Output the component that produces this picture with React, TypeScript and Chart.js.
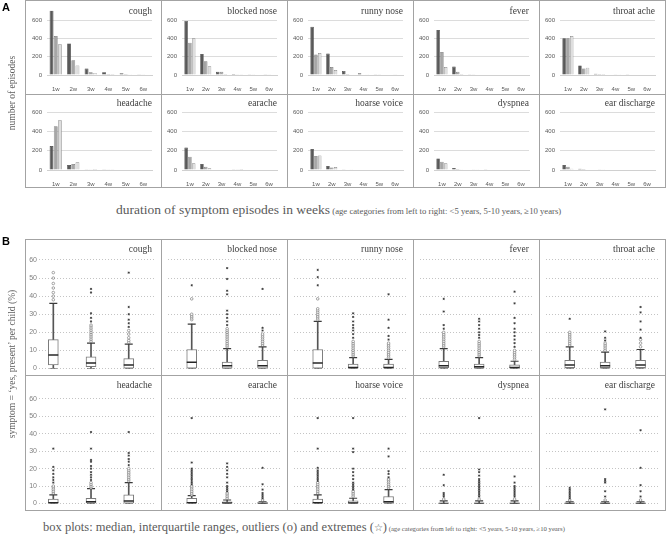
import React, { useEffect, useRef } from 'react';
import { Chart, registerables } from 'chart.js';

Chart.register(...registerables);

// ---------- categories ----------
const WEEKS = ['1w', '2w', '3w', '4w', '5w', '6w'];
const AGE_GROUPS = ['<5 years', '5-10 years', '≥10 years'];
const SYMPTOMS = ['cough', 'blocked nose', 'runny nose', 'fever', 'throat ache', 'headache', 'earache', 'hoarse voice', 'dyspnea', 'ear discharge'];
const EPISODE_TICKS = [0, 200, 400, 600];
const PERCENT_TICKS = [0, 10, 20, 30, 40, 50, 60];

// ---------- panel A: number of episodes (rows: age groups, columns: weeks) ----------
const coughEpisodes = [[705, 345, 70, 30, 20, 8], [425, 160, 30, 12, 10, 2], [335, 105, 20, 10, 2, 0]];
const blockedNoseEpisodes = [[590, 228, 35, 12, 3, 3], [352, 150, 35, 8, 2, 2], [400, 95, 10, 3, 0, 0]];
const runnyNoseEpisodes = [[527, 234, 45, 20, 8, 5], [225, 88, 10, 5, 3, 2], [240, 55, 5, 2, 0, 0]];
const feverEpisodes = [[490, 92, 8, 0, 0, 0], [250, 35, 3, 0, 0, 0], [88, 10, 0, 0, 0, 0]];
const throatAcheEpisodes = [[400, 105, 15, 5, 3, 0], [400, 72, 10, 3, 0, 0], [425, 80, 10, 2, 0, 0]];
const headacheEpisodes = [[247, 51, 8, 3, 0, 0], [453, 62, 8, 2, 0, 0], [514, 79, 10, 3, 0, 0]];
const earacheEpisodes = [[233, 62, 5, 3, 0, 0], [137, 34, 5, 3, 0, 0], [69, 17, 0, 1, 0, 0]];
const hoarseVoiceEpisodes = [[216, 41, 8, 0, 0, 0], [144, 27, 5, 0, 0, 0], [151, 30, 2, 0, 0, 0]];
const dyspneaEpisodes = [[120, 21, 5, 3, 0, 0], [86, 10, 2, 0, 0, 0], [69, 8, 2, 0, 0, 0]];
const earDischargeEpisodes = [[51, 14, 5, 0, 0, 0], [34, 10, 3, 0, 0, 0], [14, 5, 2, 0, 0, 0]];

const EPISODES = [coughEpisodes, blockedNoseEpisodes, runnyNoseEpisodes, feverEpisodes, throatAcheEpisodes,
  headacheEpisodes, earacheEpisodes, hoarseVoiceEpisodes, dyspneaEpisodes, earDischargeEpisodes];

// ---------- panel B: box plots per age group [q1, median, q3, lower whisker, upper whisker] ----------
const coughBox = [[2, 7.5, 16, 0, 36], [1, 3, 6.5, 0, 14], [0, 2, 5.5, 0, 13.5]];
const coughOutliers = [[38, 40, 42, 44.5, 47, 50, 53], [15, 16, 17, 18, 19, 20, 21, 22, 23, 24], [14.5, 15.5, 17, 19, 21]];
const coughExtremes = [[], [26, 28, 30.5, 42, 44], [23, 25, 27, 30, 34, 53]];

const blockedNoseBox = [[0, 3.5, 10.5, 0, 24.5], [0, 1.5, 3.5, 0, 11], [0, 1.5, 4.5, 0, 12]];
const blockedNoseOutliers = [[27, 28, 29, 30, 38.5], [12, 13, 14, 15, 16, 17, 18, 19, 20, 21, 22], [13, 14, 15, 16, 17, 18, 19]];
const blockedNoseExtremes = [[46], [24, 26, 28, 30, 32, 41, 43, 49.5, 55.5], [21, 22.5, 44]];

const runnyNoseBox = [[0, 3, 10.5, 0, 26], [0, 0.5, 2.5, 0, 6], [0, 0.5, 2.5, 0, 5]];
const runnyNoseOutliers = [[27, 28, 29, 30, 31, 32, 33, 38.5], [7, 8, 9, 10, 11, 12, 13, 14, 15], [6, 7, 8, 9, 10, 11, 12, 13, 14]];
const runnyNoseExtremes = [[46, 50.5, 54.5], [17, 19, 21, 22.5, 24, 26, 28.5, 30.5], [16, 18, 22.5, 27, 41]];

const feverBox = [[0.5, 1.5, 4, 0, 11], [0, 1, 2.5, 0, 6], [0, 0.5, 2, 0, 4]];
const feverOutliers = [[12, 13, 14, 15, 16, 17, 18, 19, 20], [7, 8, 9, 10, 11, 12, 13, 14, 15], [5, 6, 7, 8, 9, 10]];
const feverExtremes = [[22, 24, 31.5, 38.5], [17, 18.5, 20, 22, 24, 26, 27.5], [12, 14, 16, 18, 20, 22, 25, 28, 36, 42.5]];

const throatAcheBox = [[0.5, 2, 4.5, 0, 12], [0.5, 1.5, 3.5, 0, 9], [0.5, 2, 4.5, 0, 10.5]];
const throatAcheOutliers = [[13, 14, 15, 16, 17, 18, 19, 20], [10, 11, 12, 13, 14], [12, 14, 16]];
const throatAcheExtremes = [[27.5], [15.5, 17, 20.5], [17, 21.5, 26, 31, 34]];

const headacheBox = [[0, 0.5, 2.5, 0, 5], [0, 1, 3, 0, 8.5], [0, 1.5, 5, 0, 12]];
const headacheOutliers = [[6, 7, 8, 9, 10], [9, 10, 11, 12], [13, 14, 15, 16, 17, 18, 19, 20]];
const headacheExtremes = [[12, 13.5, 15, 17, 19, 21, 31.5], [13.5, 15, 16.5, 18, 20, 21.5, 24, 25, 31.5, 41], [22, 24, 25.5, 27.5, 29, 41]];

const earacheBox = [[0, 0.5, 3, 0, 4.5], [0, 0.3, 1, 0, 2], [0, 0, 0.5, 0, 1]];
const earacheOutliers = [[5, 6, 7, 8, 9, 10], [3, 4, 5, 6], [2]];
const earacheExtremes = [[11, 12, 13, 14, 15, 16, 17, 18, 19, 20, 23.5, 49], [7, 8, 9, 10, 12, 15, 17, 19, 21, 23], [3, 4, 5, 6, 8, 11, 20.5]];

const hoarseVoiceBox = [[0, 0.5, 2.5, 0, 5], [0, 0.3, 1.5, 0, 3], [0, 1, 4, 0, 8]];
const hoarseVoiceOutliers = [[6, 7, 8, 9, 10, 11, 12], [4, 5, 6, 7], [9, 10, 11, 12, 13, 14]];
const hoarseVoiceExtremes = [[13, 14, 15, 16, 17, 18, 19, 20.5, 31.5, 49], [8, 9, 10, 11, 12, 14, 16, 18, 20, 29.5, 31.5, 49], [15, 17, 18.5, 27, 31.5]];

const dyspneaBox = [[0, 0, 0.3, 0, 1.5], [0, 0, 0.3, 0, 1.5], [0, 0, 0.3, 0, 1.5]];
const dyspneaOutliers = [[2.5], [2.5], [2.5]];
const dyspneaExtremes = [[4, 5, 6, 10.5, 16.5], [4, 5, 6, 7, 8, 9, 10, 11, 12, 13, 14, 16, 18, 19.5, 49], [4, 5, 6, 7, 8, 9, 10, 12, 15.5]];

const earDischargeBox = [[0, 0, 0.3, 0, 1], [0, 0, 0.3, 0, 1], [0, 0, 0.3, 0, 1]];
const earDischargeOutliers = [[2], [2], [2]];
const earDischargeExtremes = [[3, 4, 5, 6, 7, 8, 9], [4, 7, 12, 13, 14, 54], [4, 7, 10.5, 20.5, 42]];

const BOXES = [coughBox, blockedNoseBox, runnyNoseBox, feverBox, throatAcheBox, headacheBox, earacheBox, hoarseVoiceBox, dyspneaBox, earDischargeBox];
const OUTLIERS = [coughOutliers, blockedNoseOutliers, runnyNoseOutliers, feverOutliers, throatAcheOutliers, headacheOutliers, earacheOutliers, hoarseVoiceOutliers, dyspneaOutliers, earDischargeOutliers];
const EXTREMES = [coughExtremes, blockedNoseExtremes, runnyNoseExtremes, feverExtremes, throatAcheExtremes, headacheExtremes, earacheExtremes, hoarseVoiceExtremes, dyspneaExtremes, earDischargeExtremes];

// ---------- layout / style ----------
const COL_X = [25, 161, 287, 413, 539, 665];
const A_MAX = 700;
const A_ROWS = [
  { top: 0, bottom: 94, zero: 75, pxPerUnit: 55 / 600, titleY: 11 },
  { top: 94, bottom: 187, zero: 170, pxPerUnit: 58 / 600, titleY: 103 },
];
const B_ROWS = [
  { top: 239, bottom: 375, zero: 371, pxPerUnit: 1.9, max: 68, titleY: 249 },
  { top: 375, bottom: 510, zero: 504, pxPerUnit: 1.75, max: 70, titleY: 385 },
];
const B_SPACING = 39.5;
const BAR_FILL = ['#595959', '#a6a6a6', '#dedede'];
const BAR_LINE = ['#3a3a3a', '#7a7a7a', '#8a8a8a'];
const SERIF = '"Liberation Serif", "DejaVu Serif", serif';
const SANS = '"Liberation Sans", Arial, sans-serif';
const FRAME = '#a3a3a3';

function zeroPad(s: any) {
  s.paddingTop = 0; s.paddingBottom = 0; s.paddingLeft = 0; s.paddingRight = 0;
}

function EpisodeChart({ idx }: { idx: number }) {
  const col = idx % 5;
  const row = Math.floor(idx / 5);
  const r = A_ROWS[row];
  const left = COL_X[col];
  const width = COL_X[col + 1] - left;
  const height = r.bottom - r.top;
  const yW = col === 0 ? 22 : 21;
  const ref = useRef<HTMLCanvasElement>(null);
  useEffect(() => {
    const chart = new Chart(ref.current as HTMLCanvasElement, {
      type: 'bar',
      data: {
        labels: WEEKS,
        datasets: EPISODES[idx].map((vals, i) => ({
          label: AGE_GROUPS[i],
          data: vals,
          backgroundColor: BAR_FILL[i],
          borderColor: BAR_LINE[i],
          borderWidth: 0.7,
          categoryPercentage: 0.72,
          barPercentage: 0.92,
        })),
      },
      options: {
        animation: false,
        responsive: false,
        devicePixelRatio: 1,
        events: [],
        layout: { padding: { top: r.zero - A_MAX * r.pxPerUnit - r.top, right: col === 0 ? 9 : 10, bottom: 0, left: 0 } },
        plugins: { legend: { display: false }, tooltip: { enabled: false } },
        scales: {
          x: {
            grid: { display: false },
            border: { color: '#d0d0d0' },
            ticks: { color: '#595959', font: { family: SANS, size: 6 }, padding: 3, maxRotation: 0, autoSkip: false },
            afterFit: (s: any) => { s.height = r.bottom - r.zero; zeroPad(s); },
          },
          y: {
            min: 0,
            max: A_MAX,
            afterBuildTicks: (s: any) => { s.ticks = EPISODE_TICKS.map((v) => ({ value: v })); },
            grid: { color: '#dcdcdc', drawTicks: false },
            border: { display: false },
            ticks: { color: '#595959', font: { family: SANS, size: 6 }, padding: 5 },
            afterFit: (s: any) => { s.width = yW; zeroPad(s); },
          },
        },
      },
    } as any);
    return () => chart.destroy();
  }, []);
  return <canvas ref={ref} width={width} height={height} style={{ position: 'absolute', left, top: r.top, width, height }} />;
}

function BoxChart({ idx }: { idx: number }) {
  const col = idx % 5;
  const row = Math.floor(idx / 5);
  const r = B_ROWS[row];
  const left = COL_X[col];
  const width = COL_X[col + 1] - left;
  const height = r.bottom - r.top;
  const first = col === 0;
  const yW = first ? 14 : 0;
  const rightPad = first ? 1 : 0;
  const firstCenter = first ? 29 : 27;
  const plotW = width - yW - rightPad;
  const xMin = 1 - (firstCenter - yW) / B_SPACING;
  const xMax = xMin + plotW / B_SPACING;
  const ref = useRef<HTMLCanvasElement>(null);
  useEffect(() => {
    const stats = BOXES[idx];
    const chart = new Chart(ref.current as HTMLCanvasElement, {
      type: 'bar',
      data: {
        datasets: [
          {
            type: 'bar', label: 'whisker',
            data: stats.map((s, i) => ({ x: i + 1, y: [s[3], s[4]] })),
            backgroundColor: '#555555', barThickness: 1, grouped: false, order: 5,
          },
          {
            type: 'bar', label: 'IQR',
            data: stats.map((s, i) => ({ x: i + 1, y: [s[0], s[2]] })),
            backgroundColor: '#ffffff', borderColor: '#7a7a7a', borderWidth: 1, borderSkipped: false,
            barThickness: 10, grouped: false, order: 4,
          },
          {
            type: 'scatter', label: 'median',
            data: stats.map((s, i) => ({ x: i + 1, y: s[1] })),
            pointStyle: 'line', radius: 5, borderWidth: 1.5, borderColor: '#262626', order: 3,
          },
          {
            type: 'scatter', label: 'caps',
            data: stats.flatMap((s, i) => [{ x: i + 1, y: s[4] }, { x: i + 1, y: s[3] }]),
            pointStyle: 'line', radius: 4, borderWidth: 1.2, borderColor: '#3a3a3a', order: 3,
          },
          {
            type: 'scatter', label: 'outliers',
            data: OUTLIERS[idx].flatMap((arr, i) => arr.map((v) => ({ x: i + 1, y: v }))),
            pointStyle: 'circle', radius: 1.3, borderWidth: 0.6, borderColor: '#6a6a6a', backgroundColor: '#ffffff', order: 2,
          },
          {
            type: 'scatter', label: 'extremes',
            data: EXTREMES[idx].flatMap((arr, i) => arr.map((v) => ({ x: i + 1, y: v }))),
            pointStyle: 'star', radius: 1.1, borderWidth: 0.7, borderColor: '#3a3a3a', backgroundColor: '#3a3a3a', order: 1,
          },
        ],
      },
      options: {
        animation: false,
        responsive: false,
        devicePixelRatio: 1,
        events: [],
        layout: { padding: { top: r.zero - r.max * r.pxPerUnit - r.top, right: rightPad, bottom: r.bottom - r.zero, left: 0 } },
        plugins: { legend: { display: false }, tooltip: { enabled: false } },
        scales: {
          x: { type: 'linear', min: xMin, max: xMax, offset: false, display: false },
          y: {
            min: 0,
            max: r.max,
            afterBuildTicks: (s: any) => { s.ticks = PERCENT_TICKS.map((v) => ({ value: v })); },
            grid: { color: '#b5b5b5', drawTicks: false, lineWidth: 0.8 },
            border: { display: false, dash: [1, 2] },
            ticks: { display: first, color: '#808080', font: { family: SANS, size: 7 }, padding: 2 },
            afterFit: (s: any) => { s.width = yW; zeroPad(s); },
          },
        },
      },
    } as any);
    return () => chart.destroy();
  }, []);
  return <canvas ref={ref} width={width} height={height} style={{ position: 'absolute', left, top: r.top, width, height }} />;
}

function HLine({ x1, x2, y }: { x1: number; x2: number; y: number }) {
  return <div style={{ position: 'absolute', left: x1, top: y, width: x2 - x1 + 1, height: 1, background: FRAME }} />;
}
function VLine({ x, y1, y2 }: { x: number; y1: number; y2: number }) {
  return <div style={{ position: 'absolute', left: x, top: y1, width: 1, height: y2 - y1 + 1, background: FRAME }} />;
}

function CellTitle({ col, y, text }: { col: number; y: number; text: string }) {
  const left = COL_X[col];
  const w = COL_X[col + 1] - left - (col === 0 ? 9 : 10);
  return (
    <div style={{ position: 'absolute', left, top: y - 6, width: w, height: 12, lineHeight: '12px', textAlign: 'right', fontFamily: SERIF, fontSize: 9.5, color: '#404040', whiteSpace: 'nowrap' }}>
      {text}
    </div>
  );
}

function VTitle({ y, text }: { y: number; text: string }) {
  return (
    <div style={{ position: 'absolute', left: 12, top: y, transform: 'translate(-50%, -50%) rotate(-90deg)', fontFamily: SERIF, fontSize: 9.5, color: '#606060', whiteSpace: 'nowrap', lineHeight: '11px' }}>
      {text}
    </div>
  );
}

export default function App() {
  const idxs = SYMPTOMS.map((_, i) => i);
  const captionStyle: React.CSSProperties = { position: 'absolute', whiteSpace: 'nowrap', fontFamily: SERIF, color: '#5a5a5a', WebkitFontSmoothing: 'antialiased' } as any;
  return (
    <div style={{ position: 'fixed', left: 0, top: 0, width: 669, height: 535, background: '#ffffff', overflow: 'hidden' }}>
      {idxs.map((i) => <EpisodeChart key={'a' + i} idx={i} />)}
      {idxs.map((i) => <BoxChart key={'b' + i} idx={i} />)}

      {/* frames panel A */}
      {[0, 94, 187].map((y) => <HLine key={'ah' + y} x1={COL_X[0]} x2={COL_X[5]} y={y} />)}
      {COL_X.map((x) => <VLine key={'av' + x} x={x} y1={0} y2={187} />)}
      {/* frames panel B */}
      {[239, 375, 510].map((y) => <HLine key={'bh' + y} x1={COL_X[0]} x2={COL_X[5]} y={y} />)}
      {COL_X.map((x) => <VLine key={'bv' + x} x={x} y1={239} y2={510} />)}

      {idxs.map((i) => <CellTitle key={'ta' + i} col={i % 5} y={A_ROWS[Math.floor(i / 5)].titleY} text={SYMPTOMS[i]} />)}
      {idxs.map((i) => <CellTitle key={'tb' + i} col={i % 5} y={B_ROWS[Math.floor(i / 5)].titleY} text={SYMPTOMS[i]} />)}

      <div style={{ position: 'absolute', left: 2, top: 1, fontFamily: SANS, fontWeight: 'bold', fontSize: 11, color: '#000' }}>A</div>
      <div style={{ position: 'absolute', left: 2, top: 235, fontFamily: SANS, fontWeight: 'bold', fontSize: 11, color: '#000' }}>B</div>

      <VTitle y={93} text="number of episodes" />
      <VTitle y={364} text="symptom = ‘yes, present’ per child (%)" />

      <div style={{ ...captionStyle, left: 116, top: 201, lineHeight: '16px' }}>
        <span style={{ fontSize: 13.5 }}>duration of symptom episodes in weeks</span>
        <span style={{ fontSize: 8.7 }}> (age categories from left to right: &lt;5 years, 5-10 years, ≥10 years)</span>
      </div>
      <div style={{ ...captionStyle, left: 43, top: 518, lineHeight: '15px' }}>
        <span style={{ fontSize: 12.5 }}>box plots: median, interquartile ranges, outliers (o) and extremes (<span style={{ fontSize: 10 }}>☆</span>)</span>
        <span style={{ fontSize: 6.7 }}> (age categories from left to right: &lt;5 years, 5-10 years, ≥10 years)</span>
      </div>
    </div>
  );
}
